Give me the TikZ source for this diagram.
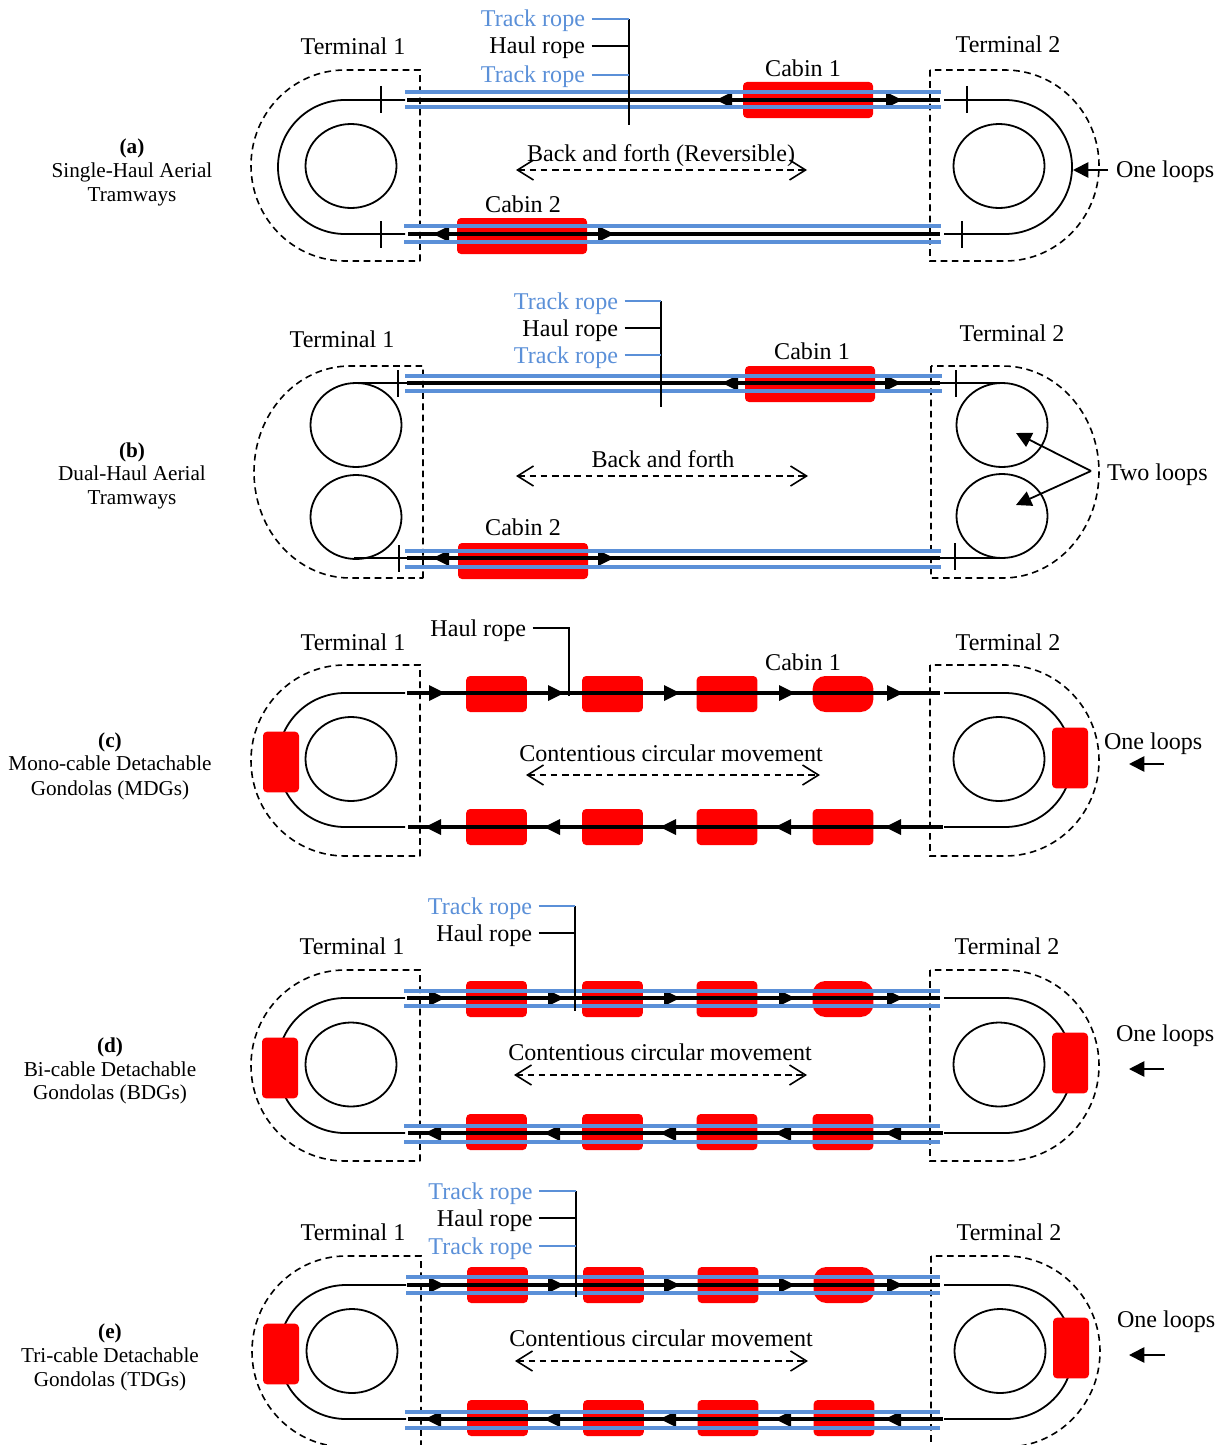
\documentclass[tikz,border=0pt]{standalone}
\usepackage{fontspec}
\setmainfont{Liberation Serif}
\usetikzlibrary{arrows.meta}
\definecolor{rope}{HTML}{5B90D8}
\definecolor{cab}{HTML}{FF0000}
\tikzset{
  txt/.style={inner sep=0pt,outer sep=0pt,font=\fontsize{18.05pt}{20pt}\selectfont,text height=12pt,text depth=0pt},
  tlab/.style={inner sep=0pt,outer sep=0pt,font=\fontsize{15.9pt}{18pt}\selectfont,text height=10.5pt,text depth=0pt},
  bluetxt/.style={txt,text=rope},
  dsh/.style={line width=1.2pt,dash pattern=on 5pt off 3.4pt},
  thinl/.style={line width=1.35pt},
  haul/.style={line width=2.4pt},
  track/.style={line width=2.4pt,draw=rope},
  lead/.style={line width=1.2pt},
  leadb/.style={line width=1.3pt,draw=rope},
  flow/.style={line width=1.2pt,dash pattern=on 5pt off 3.4pt,{Straight Barb[length=12pt,width=15pt]}-{Straight Barb[length=12pt,width=15pt]}},
  solidarr/.style={line width=1.35pt,-{Triangle[length=11.5pt,width=11.5pt]}},
  cabbase/.style={fill=cab,draw=none,inner sep=0pt,outer sep=0pt,rounded corners=3pt},
  cabL/.style={cabbase,minimum width=97.5pt,minimum height=27pt},
  cabM/.style={cabbase,minimum width=45.5pt,minimum height=27pt},
  cabR/.style={cabbase,minimum width=45.5pt,minimum height=27pt,rounded corners=9.5pt},
  cabV/.style={cabbase,minimum width=27pt,minimum height=45.5pt},
}
\newcommand\rtip[2]{\fill (#1,#2-8) -- (#1+16,#2) -- (#1,#2+8) -- cycle;}
\newcommand\ltip[2]{\fill (#1,#2) -- (#1+16,#2-8) -- (#1+16,#2+8) -- cycle;}
% #1 dash top, #2 dash bottom, #3 track top, #4 track bottom, #5 x offset
\newcommand\stadium[5]{%
  \pgfmathsetmacro\ry{(#2-#1)/2}\pgfmathsetmacro\rt{(#4-#3)/2}\pgfmathsetmacro\cyy{(#3+#4)/2}%
  \draw[dsh] (420+#5,#2) -- (420+#5,#1) -- (345+#5,#1) arc[start angle=-90,end angle=-270,x radius=94,y radius=\ry] -- cycle;
  \draw[dsh] (930+#5,#1) -- (930+#5,#2) -- (1005+#5,#2) arc[start angle=90,end angle=-90,x radius=94,y radius=\ry] -- cycle;
  \draw[thinl] (405+#5,#3) -- (345+#5,#3) arc[start angle=-90,end angle=-270,radius=\rt] -- (405+#5,#4);
  \draw[thinl] (944,#3) -- (1005+#5,#3) arc[start angle=-90,end angle=90,radius=\rt] -- (944,#4);
  \draw[thinl] (351+#5,\cyy-1) ellipse[x radius=45.5,y radius=42];
  \draw[thinl] (999+#5,\cyy-1) ellipse[x radius=45.5,y radius=42];
}
% eight cabins: #1 top y, #2 bottom y, #3 x offset
\newcommand\cabrow[3]{%
  \node[cabM] at (496.5+#3,#1) {};\node[cabM] at (612.5+#3,#1) {};\node[cabM] at (727+#3,#1) {};\node[cabR] at (843+#3,#1) {};
  \node[cabM] at (496.5+#3,#2) {};\node[cabM] at (612.5+#3,#2) {};\node[cabM] at (727+#3,#2) {};\node[cabM] at (843+#3,#2) {};
}
\newcommand\haulrow[3]{%
  \draw[haul] (407+#3,#1) -- (940,#1);\draw[haul] (408+#3,#2) -- (943,#2);
  \foreach \x in {429,548,664,779,887} {\rtip{\x+#3}{#1}}
  \foreach \x in {425,544,660,775,885} {\ltip{\x+#3}{#2}}
}
\begin{document}
\begin{tikzpicture}[x=0.75pt,y=-0.75pt]
\useasboundingbox (0,0) rectangle (1221,1445);
\clip (0,0) rectangle (1221,1445);
% ---------- panel (a)
\stadium{70}{261}{100}{234}{0}
\node[cabL] (a-c1) at (808,100) {};
\node[cabL] (a-c2) at (522,236) {};
\draw[haul] (407,100) -- (940,100);
\draw[haul] (408,234) -- (940,234);
\ltip{716}{100}\rtip{886}{100}\ltip{433}{234}\rtip{598}{234}
\draw[track] (405,92) -- (941,92) (405,107) -- (941,107) (404,226) -- (941,226) (404,242) -- (941,242);
\draw[thinl] (381,86) -- (381,113) (967,86) -- (967,113) (381,221) -- (381,248) (962,221) -- (962,248);
\node[txt] (a-t1) at (353,47) {Terminal 1};
\node[txt] (a-t2) at (1008,45) {Terminal 2};
\node[txt] (a-cn1) at (803,68) {Cabin 1};
\node[txt] (a-cn2) at (523,204) {Cabin 2};
\node[bluetxt,anchor=east] (a-tr1) at (585,19) {Track rope};
\node[txt,anchor=east] (a-hr) at (585,46) {Haul rope};
\node[bluetxt,anchor=east] (a-tr2) at (585,75) {Track rope};
\coordinate (a-b1) at (629,19);\coordinate (a-b2) at (629,46);\coordinate (a-b3) at (629,75);\coordinate (a-b4) at (629,125);
\draw[lead] (a-b1) -- (a-b4);
\draw[leadb] ([xshift=5pt]a-tr1.east) -- (a-b1);
\draw[lead] ([xshift=5pt]a-hr.east) -- (a-b2);
\draw[leadb] ([xshift=5pt]a-tr2.east) -- (a-b3);
\node[txt] (a-mv) at (661,153) {Back and forth (Reversible)};
\coordinate (a-fl) at (516,170);\coordinate (a-fr) at (807,170);
\draw[flow] (a-fl) -- (a-fr);
\node[txt,anchor=west] (a-ol) at (1116,169) {One loops};
\coordinate (a-oa) at (1108,170);\coordinate (a-ob) at (1073,170);
\draw[solidarr] (a-oa) -- (a-ob);
\node[tlab,font=\fontsize{15.9pt}{18pt}\selectfont\bfseries] (a-l0) at (132,146) {(a)};
\node[tlab] (a-l1) at (132,170) {Single-Haul Aerial};
\node[tlab] (a-l2) at (132,194) {Tramways};
% ---------- panel (b)
\draw[dsh] (423,578) -- (423,366) -- (350,366) arc[start angle=-90,end angle=-270,x radius=96,y radius=106] -- cycle;
\draw[dsh] (931,366) -- (931,578) -- (1003,578) arc[start angle=90,end angle=-90,x radius=96,y radius=106] -- cycle;
\draw[thinl] (356,425) ellipse[x radius=45.5,y radius=42];
\draw[thinl] (356,517) ellipse[x radius=45.5,y radius=42];
\draw[thinl] (1002,425) ellipse[x radius=45.5,y radius=42];
\draw[thinl] (1002,516) ellipse[x radius=45.5,y radius=42];
\draw[thinl] (358,383) -- (408,383) (354,558) -- (408,558) (940,383) -- (1002,383) (940,558) -- (1004,558);
\node[cabL] (b-c1) at (810,384) {};
\node[cabL] (b-c2) at (523,561) {};
\draw[haul] (407,383) -- (940,383);
\draw[haul] (407,558) -- (940,558);
\ltip{722}{383}\rtip{885}{383}\ltip{433}{558}\rtip{598}{558}
\draw[track] (405,376) -- (942,376) (405,391) -- (942,391) (405,551) -- (941,551) (405,567) -- (941,567);
\draw[thinl] (398,370) -- (398,397) (956,370) -- (956,397) (399,545) -- (399,572) (955,543) -- (955,570);
\node[txt] (b-t1) at (342,339) {Terminal 1};
\node[txt] (b-t2) at (1012,333) {Terminal 2};
\node[txt] (b-cn1) at (812,351) {Cabin 1};
\node[txt] (b-cn2) at (523,527) {Cabin 2};
\node[bluetxt,anchor=east] (b-tr1) at (618,301) {Track rope};
\node[txt,anchor=east] (b-hr) at (618,328) {Haul rope};
\node[bluetxt,anchor=east] (b-tr2) at (618,355) {Track rope};
\coordinate (b-b1) at (661,301);\coordinate (b-b2) at (661,328);\coordinate (b-b3) at (661,355);\coordinate (b-b4) at (661,407);
\draw[lead] (b-b1) -- (b-b4);
\draw[leadb] ([xshift=5pt]b-tr1.east) -- (b-b1);
\draw[lead] ([xshift=5pt]b-hr.east) -- (b-b2);
\draw[leadb] ([xshift=5pt]b-tr2.east) -- (b-b3);
\node[txt] (b-mv) at (663,459) {Back and forth};
\coordinate (b-fl) at (516,476);\coordinate (b-fr) at (808,476);
\draw[flow] (b-fl) -- (b-fr);
\node[txt,anchor=west] (b-tl) at (1107,472) {Two loops};
\coordinate (b-o) at (1091,471);\coordinate (b-u) at (1016,433);\coordinate (b-d) at (1016,505);
\draw[solidarr] (b-o) -- (b-u);
\draw[solidarr] (b-o) -- (b-d);
\node[tlab,font=\fontsize{15.9pt}{18pt}\selectfont\bfseries] (b-l0) at (132,450) {(b)};
\node[tlab] (b-l1) at (132,473) {Dual-Haul Aerial};
\node[tlab] (b-l2) at (132,497) {Tramways};
% ---------- panel (c)
\stadium{665}{856}{693}{827}{0}
\node[cabV] (c-cl) at (281,762) {};
\node[cabV] (c-cr) at (1070,758) {};
\cabrow{694}{827}{0}
\haulrow{693}{827}{0}
\node[txt] (c-t1) at (353,642) {Terminal 1};
\node[txt] (c-t2) at (1008,642) {Terminal 2};
\node[txt] (c-cn1) at (803,662) {Cabin 1};
\node[txt,anchor=east] (c-hr) at (526,628) {Haul rope};
\coordinate (c-b1) at (569,628);\coordinate (c-b2) at (569,696);
\draw[lead] ([xshift=5pt]c-hr.east) -- (c-b1) -- (c-b2);
\node[txt] (c-mv) at (671,753.5) {Contentious circular movement};
\coordinate (c-fl) at (526,775);\coordinate (c-fr) at (820,775);
\draw[flow] (c-fl) -- (c-fr);
\node[txt,anchor=west] (c-ol) at (1104,741) {One loops};
\coordinate (c-oa) at (1164,764);\coordinate (c-ob) at (1129,764);
\draw[solidarr] (c-oa) -- (c-ob);
\node[tlab,font=\fontsize{15.9pt}{18pt}\selectfont\bfseries] (c-l0) at (110,740) {(c)};
\node[tlab] (c-l1) at (110,763) {Mono-cable Detachable};
\node[tlab] (c-l2) at (110,788) {Gondolas (MDGs)};
% ---------- panel (d)
\stadium{970}{1161}{998}{1133}{0}
\node[cabV] (d-cl) at (280,1068) {};
\node[cabV] (d-cr) at (1070,1063) {};
\cabrow{999}{1132}{0}
\haulrow{998}{1133}{0}
\draw[track] (404,991) -- (940,991) (404,1006) -- (940,1006) (404,1126) -- (940,1126) (404,1142) -- (940,1142);
\node[txt] (d-t1) at (352,946) {Terminal 1};
\node[txt] (d-t2) at (1007,946) {Terminal 2};
\node[bluetxt,anchor=east] (d-tr) at (532,906) {Track rope};
\node[txt,anchor=east] (d-hr) at (532,933) {Haul rope};
\coordinate (d-b1) at (575,906);\coordinate (d-b2) at (575,933);\coordinate (d-b3) at (575,1011);
\draw[lead] (d-b1) -- (d-b3);
\draw[leadb] ([xshift=5pt]d-tr.east) -- (d-b1);
\draw[lead] ([xshift=5pt]d-hr.east) -- (d-b2);
\node[txt] (d-mv) at (660,1052.5) {Contentious circular movement};
\coordinate (d-fl) at (514,1075);\coordinate (d-fr) at (807,1075);
\draw[flow] (d-fl) -- (d-fr);
\node[txt,anchor=west] (d-ol) at (1116,1033) {One loops};
\coordinate (d-oa) at (1164,1069);\coordinate (d-ob) at (1129,1069);
\draw[solidarr] (d-oa) -- (d-ob);
\node[tlab,font=\fontsize{15.9pt}{18pt}\selectfont\bfseries] (d-l0) at (110,1045) {(d)};
\node[tlab] (d-l1) at (110,1069) {Bi-cable Detachable};
\node[tlab] (d-l2) at (110,1092) {Gondolas (BDGs)};
% ---------- panel (e)
\stadium{1256}{1447}{1285}{1419}{1}
\node[cabV] (e-cl) at (281,1354) {};
\node[cabV] (e-cr) at (1071,1348) {};
\cabrow{1285}{1418}{1}
\haulrow{1285}{1419}{0}
\draw[track] (406,1277) -- (940,1277) (406,1293) -- (940,1293) (405,1412) -- (940,1412) (405,1428) -- (940,1428);
\node[txt] (e-t1) at (353,1232) {Terminal 1};
\node[txt] (e-t2) at (1009,1232) {Terminal 2};
\node[bluetxt,anchor=east] (e-tr1) at (532.5,1191) {Track rope};
\node[txt,anchor=east] (e-hr) at (532.5,1218) {Haul rope};
\node[bluetxt,anchor=east] (e-tr2) at (532.5,1246) {Track rope};
\coordinate (e-b1) at (576,1191);\coordinate (e-b2) at (576,1218);\coordinate (e-b3) at (576,1246);\coordinate (e-b4) at (576,1297);
\draw[lead] (e-b1) -- (e-b4);
\draw[leadb] ([xshift=5pt]e-tr1.east) -- (e-b1);
\draw[lead] ([xshift=5pt]e-hr.east) -- (e-b2);
\draw[leadb] ([xshift=5pt]e-tr2.east) -- (e-b3);
\node[txt] (e-mv) at (661,1338.5) {Contentious circular movement};
\coordinate (e-fl) at (515,1361);\coordinate (e-fr) at (808,1361);
\draw[flow] (e-fl) -- (e-fr);
\node[txt,anchor=west] (e-ol) at (1117,1319) {One loops};
\coordinate (e-oa) at (1165,1355);\coordinate (e-ob) at (1129,1355);
\draw[solidarr] (e-oa) -- (e-ob);
\node[tlab,font=\fontsize{15.9pt}{18pt}\selectfont\bfseries] (e-l0) at (110,1331) {(e)};
\node[tlab] (e-l1) at (110,1355) {Tri-cable Detachable};
\node[tlab] (e-l2) at (110,1379) {Gondolas (TDGs)};
\end{tikzpicture}
\end{document}
